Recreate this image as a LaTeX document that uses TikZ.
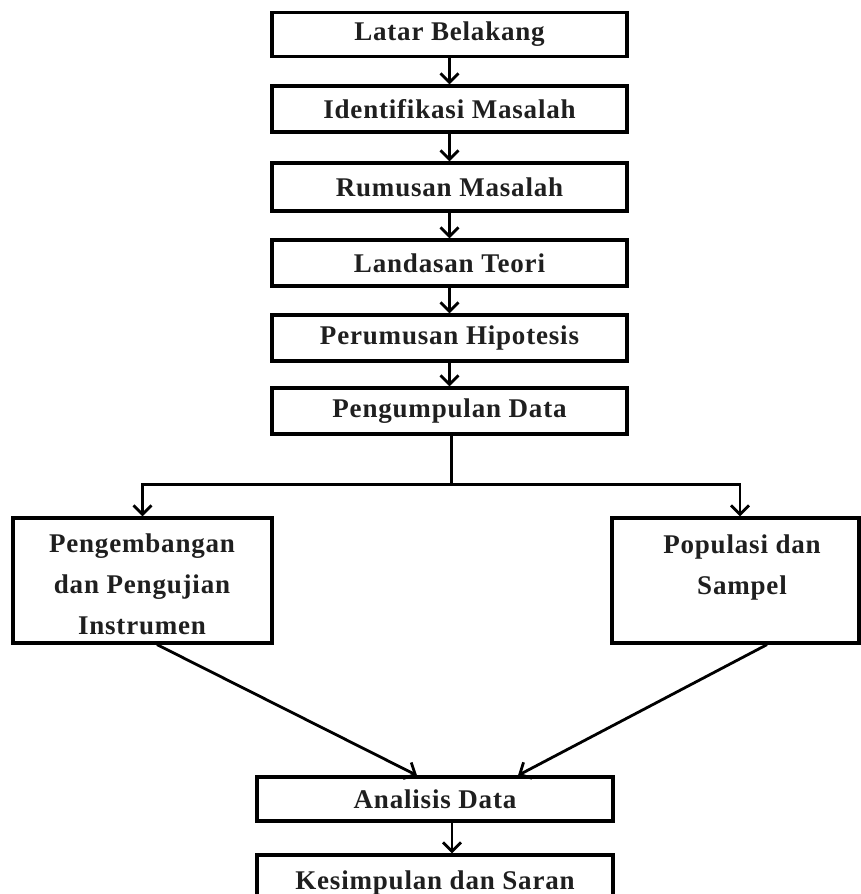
\documentclass[tikz,border=0pt]{standalone}
\usepackage{fontspec}
\newfontfamily\boxfont{Liberation Serif}[LetterSpace=3]
\usetikzlibrary{arrows.meta}
\tikzset{
  box/.style={draw, line width=3.2pt, minimum height=46pt, inner sep=0pt, fill=white},
  txt/.style={font=\boxfont\fontsize{27}{41}\selectfont\bfseries, align=center, text=black!88, inner sep=0pt},
  plain/.style={line width=2.8pt},
  conn/.style={line width=2.8pt, -{Straight Barb[length=9pt,width=18pt]}},
}
\begin{document}
\begin{tikzpicture}[x=1pt,y=-1pt]
\useasboundingbox (0,0) rectangle (861,894);
\clip (0,0) rectangle (861,894);
\fill[white] (0,0) rectangle (861,894);

\node[box, txt, minimum width=355pt, minimum height=44pt] (b1) at (449.5,34.5) {Latar Belakang};
\node[box, txt, minimum width=355pt] (b2) at (449.5,109) {Identifikasi Masalah};
\node[box, txt, minimum width=355pt, minimum height=48pt] (b3) at (449.5,187) {Rumusan Masalah};
\node[box, txt, minimum width=355pt] (b4) at (449.5,263) {Landasan Teori};
\node[box, txt, minimum width=355pt] (b5) at (449.5,338) {Perumusan Hipotesis};
\node[box, txt, minimum width=355pt] (b6) at (449.5,411) {Pengumpulan Data};

\draw[conn] (b1.south) -- (b2.north);
\draw[conn] (b2.south) -- (b3.north);
\draw[conn] (b3.south) -- (b4.north);
\draw[conn] (b4.south) -- (b5.north);
\draw[conn] (b5.south) -- (b6.north);

\node[box, minimum width=259pt, minimum height=125pt] (l) at (142.5,580.5) {};
\node[txt] (lt) at (142,584) {Pengembangan\\dan Pengujian\\Instrumen};
\node[box, minimum width=247pt, minimum height=125pt] (r) at (735.5,580.5) {};
\node[txt] (rt) at (742,567.5) {Populasi dan\\Sampel};

\draw[plain] ([xshift=2pt]b6.south) -- ++(0,49) coordinate (j);
\draw[conn] (j) -| (l.north);
\draw[conn] (j) -| ([xshift=4.5pt]r.north);

\node[box, txt, minimum width=356pt, minimum height=44pt] (a) at (435,799) {Analisis Data};
\node[box, txt, minimum width=356pt, minimum height=56pt] (k) at (435,883) {Kesimpulan dan Saran};

\draw[conn] ([xshift=14.5pt]l.south) -- ([xshift=-18pt]a.north);
\draw[conn] ([xshift=31.5pt]r.south) -- ([xshift=83pt]a.north);
\draw[conn] ([xshift=17pt]a.south) -- ([xshift=17pt]k.north);
\end{tikzpicture}
\end{document}
